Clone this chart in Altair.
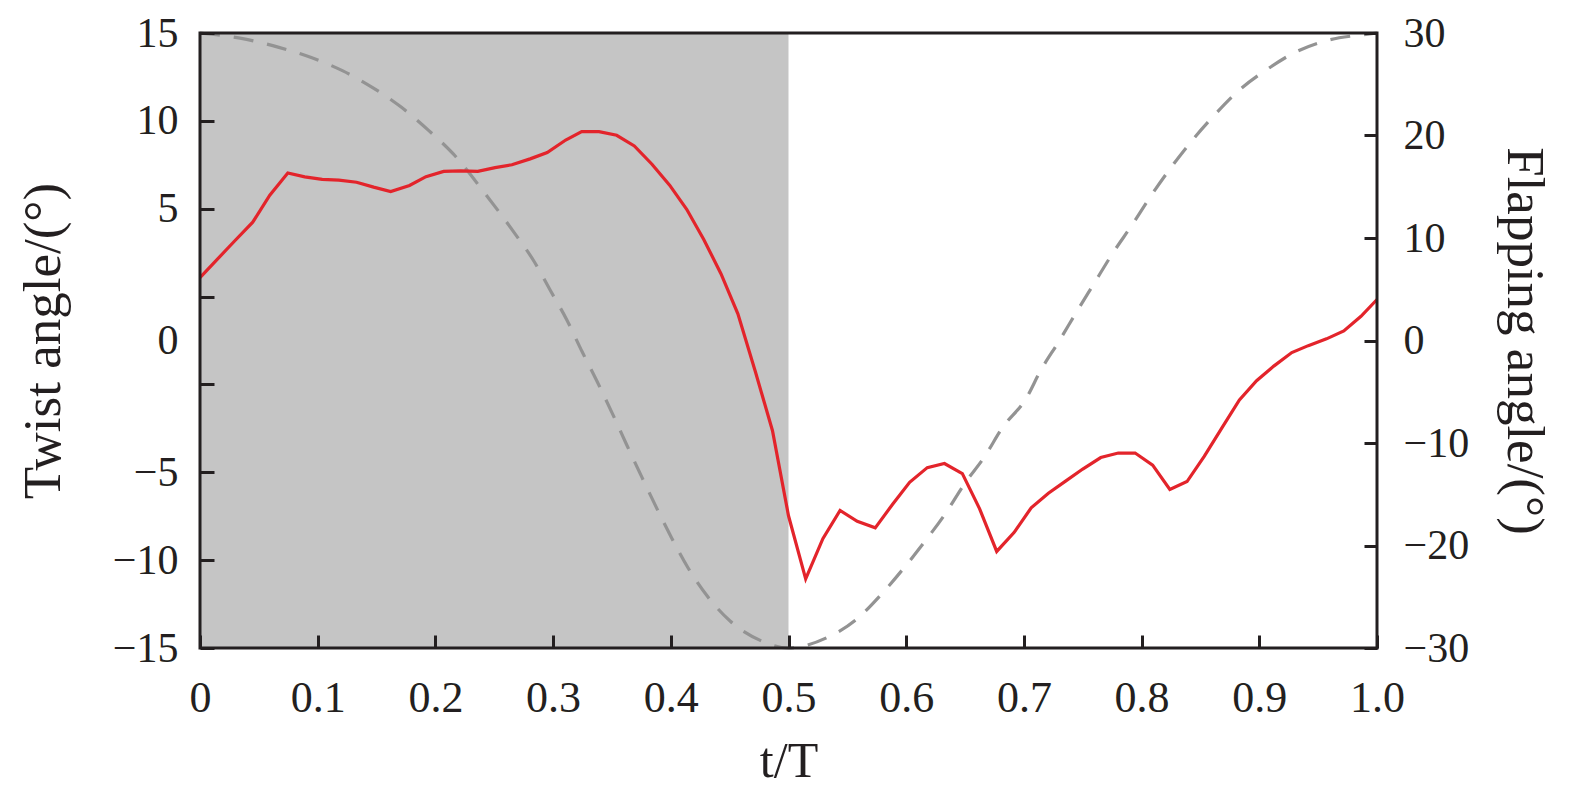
import altair as alt
import pandas as pd

# ---- data ----
t_twist = [0, 0.029, 0.0448, 0.0593, 0.0746, 0.089, 0.1038, 0.118, 0.133, 0.1475,
           0.162, 0.178, 0.192, 0.207, 0.2215, 0.236, 0.2507, 0.265, 0.2805, 0.295,
           0.3107, 0.3243, 0.339, 0.354, 0.369, 0.384, 0.399, 0.4135, 0.428, 0.4426,
           0.457, 0.472, 0.4864, 0.5, 0.5146, 0.5292, 0.5438, 0.5584, 0.5737, 0.5883,
           0.6029, 0.6179, 0.6325, 0.6477, 0.6623, 0.6769, 0.6916, 0.7062, 0.7208, 0.7354,
           0.75, 0.7653, 0.7802, 0.7945, 0.8094, 0.824, 0.8386, 0.8532, 0.8685, 0.8831,
           0.8977, 0.9123, 0.9276, 0.9416, 0.9571, 0.9718, 0.9864, 1.0]
twist = [3.07, 4.83, 5.77, 7.09, 8.17, 7.98, 7.86, 7.82, 7.72, 7.48,
         7.27, 7.56, 7.99, 8.25, 8.27, 8.25, 8.43, 8.57, 8.86, 9.17,
         9.78, 10.19, 10.19, 10.01, 9.49, 8.60, 7.58, 6.40, 4.93, 3.26,
         1.30, -1.55, -4.40, -8.55, -11.63, -9.67, -8.29, -8.82, -9.14, -8.0,
         -6.92, -6.20, -6.0, -6.49, -8.20, -10.29, -9.37, -8.16, -7.45, -6.86,
         -6.27, -5.71, -5.49, -5.49, -6.08, -7.27, -6.88, -5.65, -4.24, -2.90,
         -1.96, -1.25, -0.59, -0.25, 0.08, 0.47, 1.18, 2.0]

t_flap = [0, 0.034, 0.067, 0.0945, 0.1214, 0.1463, 0.1706, 0.1942, 0.2152, 0.2411,
          0.2671, 0.2835, 0.2977, 0.3118, 0.3246, 0.3373, 0.35, 0.3622, 0.3747, 0.3874,
          0.4005, 0.4146, 0.4308, 0.4506, 0.476, 0.5, 0.5325, 0.5568, 0.5786, 0.598,
          0.6159, 0.6338, 0.6494, 0.6662, 0.6818, 0.7024, 0.7137, 0.7298, 0.7449, 0.7596,
          0.7751, 0.7916, 0.8078, 0.8247, 0.8426, 0.8624, 0.8827, 0.9063, 0.9309, 0.9592,
          0.9884, 1.0]
flap = [30, 29.5, 28.6, 27.6, 26.3, 24.7, 22.8, 20.5, 18.2, 14.5,
        10.5, 7.78, 4.88, 1.98, -1.08, -3.98, -7.03, -10.10, -13.16, -16.21,
        -19.21, -22.17, -24.91, -27.39, -29.26, -30, -29.0, -27.3, -24.8, -22.2,
        -19.6, -16.8, -14.0, -11.4, -8.5, -5.56, -3.04, -0.07, 2.82, 5.56,
        8.45, 11.23, 14.09, 16.83, 19.47, 22.05, 24.40, 26.43, 28.14, 29.32,
        29.84, 30]

shade_start = [0]
shade_end = [0.5]
frame_start = [0]
frame_end = [1]

x_tick_values = [0, 0.1, 0.2, 0.3, 0.4, 0.5, 0.6, 0.7, 0.8, 0.9, 1.0]
x_tick_labels = ["0", "0.1", "0.2", "0.3", "0.4", "0.5", "0.6", "0.7", "0.8", "0.9", "1.0"]
left_tick_values = [15, 10.714, 6.429, 2.143, 0, -2.143, -6.429, -10.714, -15]
left_tick_labels = ["15", "10", "5", "", "0", "", "\u22125", "\u221210", "\u221215"]
right_tick_values = [-30, -20, -10, 0, 10, 20, 30]
right_tick_labels = ["\u221230", "\u221220", "\u221210", "0", "10", "20", "30"]


def label_expr(values, labels):
    expr = "''"
    for v, lab in zip(values, labels):
        expr = f"abs(datum.value - ({v})) < 0.001 ? '{lab}' : ({expr})"
    return expr


FONT = "Liberation Serif"
INK = "#231f20"
W, H = 1177, 615

df_twist = pd.DataFrame({"t": t_twist, "twist": twist})
df_flap = pd.DataFrame({"t": t_flap, "flap": flap})
df_shade = pd.DataFrame({"start": shade_start, "end": shade_end})
df_frame = pd.DataFrame({"start": frame_start, "end": frame_end})

xscale = alt.Scale(domain=[0, 1], nice=False, zero=False)

x_axis = alt.Axis(
    values=x_tick_values, labelExpr=label_expr(x_tick_values, x_tick_labels),
    title="t/T", grid=False, domain=False,
    offset=-13, tickSize=13, tickWidth=3, tickColor=INK,
    labelPadding=28, labelFlush=False, labelOverlap=False, labelFontSize=44,
    titlePadding=16, titleFontSize=50, zindex=2,
)

shade = alt.Chart(df_shade).mark_rect(color="#c5c5c5").encode(
    x=alt.X("start:Q", scale=xscale, axis=x_axis),
    x2="end:Q",
)

flap_line = alt.Chart(df_flap).mark_line(
    color="#939393", strokeWidth=3.2, strokeDash=[20, 14], interpolate="monotone"
).encode(
    x=alt.X("t:Q", scale=xscale),
    y=alt.Y(
        "flap:Q",
        scale=alt.Scale(domain=[-30, 30], nice=False, zero=False),
        axis=alt.Axis(
            orient="right", values=right_tick_values,
            labelExpr=label_expr(right_tick_values, right_tick_labels),
            title="Flapping angle/(\u00b0)", grid=False, domain=False,
            offset=-13, tickSize=13, tickWidth=3, tickColor=INK,
            labelPadding=26, labelFlush=False, labelOverlap=False,
            titlePadding=28, zindex=2,
        ),
    ),
)

twist_line = alt.Chart(df_twist).mark_line(color="#e3242b", strokeWidth=3.2).encode(
    x=alt.X("t:Q", scale=xscale),
    y=alt.Y(
        "twist:Q",
        scale=alt.Scale(domain=[-15, 15], nice=False, zero=False),
        axis=alt.Axis(
            orient="left", values=left_tick_values,
            labelExpr=label_expr(left_tick_values, left_tick_labels),
            title="Twist angle/(\u00b0)", grid=False, domain=False,
            offset=-14, tickSize=14, tickWidth=3, tickColor=INK,
            tickOpacity={"condition": {"test": "abs(datum.value) < 0.001", "value": 0}, "value": 1},
            labelPadding=22, labelFlush=False, labelOverlap=False,
            titlePadding=42, zindex=2,
        ),
    ),
)

frame = alt.Chart(df_frame).mark_rect(
    filled=False, stroke=INK, strokeWidth=3, fillOpacity=0
).encode(
    x=alt.X("start:Q", scale=xscale),
    x2="end:Q",
)

chart = (
    alt.layer(shade, flap_line, twist_line, frame)
    .resolve_scale(y="independent")
    .properties(
        width=W, height=H,
        autosize=alt.AutoSizeParams(type="none"),
        padding={"left": 192, "top": 25, "right": 185, "bottom": 138},
    )
    .configure_view(stroke=None)
    .configure_axis(
        labelFont=FONT, titleFont=FONT, labelFontSize=42, titleFontSize=53,
        labelColor=INK, titleColor=INK, titleFontWeight="normal",
    )
)

chart.save("out.html", embed_options={"renderer": "svg", "actions": False})
